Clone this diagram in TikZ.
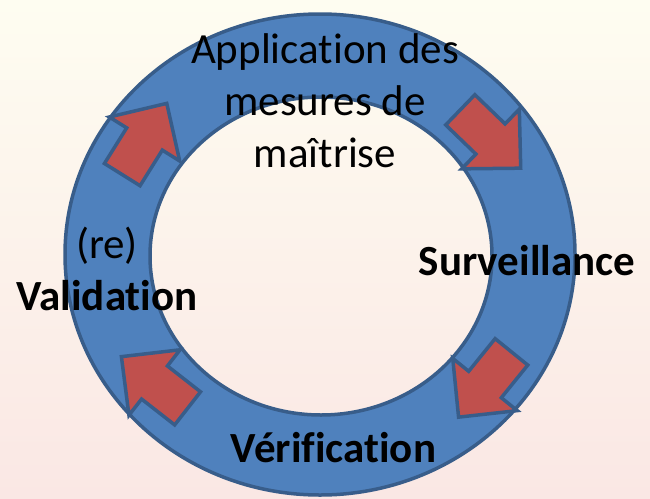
\documentclass[tikz,border=0pt]{standalone}
\usepackage{fontspec}
\setmainfont{Carlito}[Ligatures=NoCommon]
\usetikzlibrary{positioning}

\definecolor{ringblue}{RGB}{79,129,189}
\definecolor{ringedge}{RGB}{56,93,138}
\definecolor{arrowred}{RGB}{192,80,77}
\definecolor{paperTop}{RGB}{254,253,241}
\definecolor{paperMid}{RGB}{253,249,237}
\definecolor{paperBot}{RGB}{250,231,228}

\tikzset{
  cyclearrow/.pic={%
    \draw [fill=arrowred, draw=ringedge, line width=3.5pt]
      (-42,-21) -- (0,-21) -- (0,-41.5) -- (42,0) -- (0,41.5) -- (0,21) -- (-42,21) -- cycle;%
  },
}

\begin{document}
\begin{tikzpicture}[x=1pt, y=1pt,
    ring/.style={fill=ringblue, draw=ringedge, line width=3.5pt, even odd rule},
    step label/.style={font=\fontsize{43}{52}\selectfont, align=center, inner sep=0pt}]
          % paper
          \shade [top color=paperTop, middle color=paperMid, bottom color=paperBot] (0,0) rectangle (650,-498);%
          \useasboundingbox (0,0) rectangle (650,-498);%
          % the ring
          \draw [ring] (320,-254.5) ellipse [x radius=255, y radius=240.5]
                       (321,-256) ellipse [x radius=171, y radius=159];%
          % arrows round the ring
          \pic [rotate=-44] at (490.5,-139) {cyclearrow};%
          \pic [rotate=-129] at (485,-384.5) {cyclearrow};%
          \pic [rotate=142] at (154.5,-382.5) {cyclearrow};%
          \pic [rotate=58] at (144.5,-139) {cyclearrow};%
          % steps (base of a multi-line node is its last line)
          \node [step label, anchor=base] (apply) at (325,-167) {Application des\\%
            mesures de\\maîtrise};%
          \node [step label, anchor=base, font=\fontsize{43}{52}\selectfont\bfseries] (surv) at (527,-275) {Surveillance};%
          \node [step label, anchor=base, font=\fontsize{43}{52}\selectfont\bfseries] (verif) at (333.5,-462) {Vérification};%
          \node [step label, anchor=base] (valid) at (107,-310) {(re)\\%
            \textbf{Validation}};%
        \end{tikzpicture}
\end{document}
